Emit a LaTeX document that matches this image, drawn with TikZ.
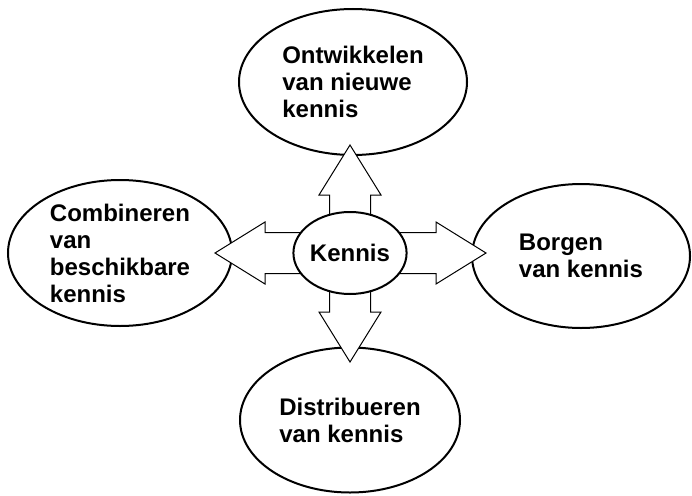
\documentclass[tikz,border=0pt]{standalone}
\usepackage{fontspec}
\setmainfont{Liberation Sans}
\usetikzlibrary{shapes}
\tikzstyle{bubble}=[ellipse,draw,line width=2pt,fill=white,inner sep=0pt,align=left,font=\bfseries\fontsize{24}{27}\selectfont]
\tikzstyle{blockarrow}=[draw,line width=1pt,fill=white,line join=miter]

\begin{document}
\begin{tikzpicture}[x=1pt,y=-1pt]
    \useasboundingbox (0,0) rectangle (692,495);
    % First the four outer bubbles
    \node[bubble,minimum width=228pt,minimum height=146pt] (ontwikkelen) at (353,82) {Ontwikkelen\\van nieuwe\\kennis};
    \node[bubble,minimum width=224pt,minimum height=146pt] (combineren) at (120,253) {Combineren\\van\\beschikbare\\kennis};
    \node[bubble,minimum width=218pt,minimum height=144pt] (borgen) at (581,256) {Borgen\\van kennis};
    \node[bubble,minimum width=220pt,minimum height=145pt] (distribueren) at (350,420) {Distribueren\\van kennis};
    % Block arrows out of the centre
    \coordinate (kern) at (350,253);
    \foreach \ang/\len in {90/108, 180/135, 0/136, 270/109}
        \draw[blockarrow,shift={(kern)},rotate=\ang] (0,-20.5) -- ({\len-50},-20.5) -- ({\len-50},-31) -- (\len,0) -- ({\len-50},31) -- ({\len-50},20.5) -- (0,20.5) -- cycle;
    % Centre bubble on top
    \node[bubble,minimum width=112pt,minimum height=82pt] (kennis) at (kern) {Kennis};
\end{tikzpicture}
\end{document}
